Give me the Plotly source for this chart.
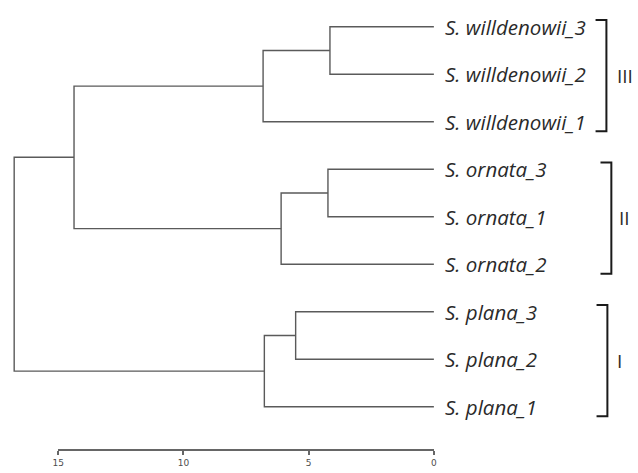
import plotly.graph_objects as go

# ---- data ----
leaf_species = ["S. willdenowii", "S. willdenowii", "S. willdenowii",
                "S. ornata", "S. ornata", "S. ornata",
                "S. plana", "S. plana", "S. plana"]
leaf_suffix = ["_3", "_2", "_1", "_3", "_1", "_2", "_3", "_2", "_1"]
# linkage: (left child, right child, height); new node ids start at 9
merge_left = [0, 9, 3, 11, 10, 6, 14, 13]
merge_right = [1, 2, 4, 5, 12, 7, 8, 15]
merge_height = [4.15, 6.82, 4.23, 6.10, 14.37, 5.52, 6.77, 16.76]
group_names = ["III", "II", "I"]
group_first = [0, 3, 6]
group_last = [2, 5, 8]
axis_ticks = [0, 5, 10, 15]

# ---- build dendrogram paths ----
n = len(leaf_species)
node_y = {i: float(i) for i in range(n)}
node_h = {i: 0.0 for i in range(n)}
xs, ys = [], []
for k, (a, b, h) in enumerate(zip(merge_left, merge_right, merge_height)):
    nid = n + k
    xs += [node_h[a], h, h, node_h[b], None]
    ys += [node_y[a], node_y[a], node_y[b], node_y[b], None]
    node_y[nid] = (node_y[a] + node_y[b]) / 2
    node_h[nid] = h

W, H = 638, 473
px_per_unit = 25.4
x0_px = 434.0
xr = [x0_px / px_per_unit, -(W - x0_px) / px_per_unit]
y0_px, px_per_leaf = 26.7, 47.5
yr = [(H - y0_px) / px_per_leaf, -y0_px / px_per_leaf]

fig = go.Figure()
fig.add_trace(go.Scatter(x=xs, y=ys, mode="lines",
                         line=dict(color="#5a5a5a", width=1.4),
                         hoverinfo="skip", showlegend=False))
# dummy trace for the scale axis
fig.add_trace(go.Scatter(x=[None], y=[None], xaxis="x2", yaxis="y",
                         showlegend=False, hoverinfo="skip"))

def u2x(px):
    return (x0_px - px) / px_per_unit

annotations = []
for i, (sp, sf) in enumerate(zip(leaf_species, leaf_suffix)):
    annotations.append(dict(x=0, y=i, xref="x", yref="y",
                            text=f"<i>{sp}{sf}</i>", showarrow=False,
                            xanchor="left", yanchor="middle", xshift=9,
                            font=dict(family="Open Sans", size=20.5, color="#2a2a2a")))

bracket_px = [609, 614, 610]
label_px = [628, 627, 622]
shapes = []
for name, f, l, bx, lx in zip(group_names, group_first, group_last, bracket_px, label_px):
    top = f - 0.14
    bot = l + 0.2
    xb = u2x(bx)
    xl = u2x(bx - 11)
    shapes.append(dict(type="path", xref="x", yref="y",
                       path=f"M {xl} {top} L {xb} {top} L {xb} {bot} L {xl} {bot}",
                       line=dict(color="#1a1a1a", width=2)))
    annotations.append(dict(x=lx / W, y=(top + bot) / 2, xref="paper", yref="y",
                            text=name, showarrow=False, xanchor="center",
                            yanchor="middle",
                            font=dict(family="Open Sans", size=19, color="#2a2a2a")))

x2_left = (x0_px - 15 * px_per_unit) / W
fig.update_layout(
    width=W, height=H,
    margin=dict(l=0, r=0, t=0, b=0),
    paper_bgcolor="white", plot_bgcolor="rgba(0,0,0,0)",
    xaxis=dict(range=xr, visible=False, domain=[0, 1]),
    yaxis=dict(range=yr, visible=False),
    xaxis2=dict(domain=[x2_left, x0_px / W], range=[15, 0], anchor="free",
                position=1 - 450 / H, showline=True, linecolor="#666666",
                linewidth=1.5, ticks="outside", ticklen=4, tickwidth=1.5,
                tickcolor="#666666", tickvals=axis_ticks, showgrid=False,
                zeroline=False, tickfont=dict(family="DejaVu Sans", size=9,
                                              color="#4d4d4d")),
    shapes=shapes,
    annotations=annotations,
)
fig.write_html("out.html", config={"displayModeBar": False},
               post_script="document.body.style.margin='0';document.body.style.overflow='hidden';")
